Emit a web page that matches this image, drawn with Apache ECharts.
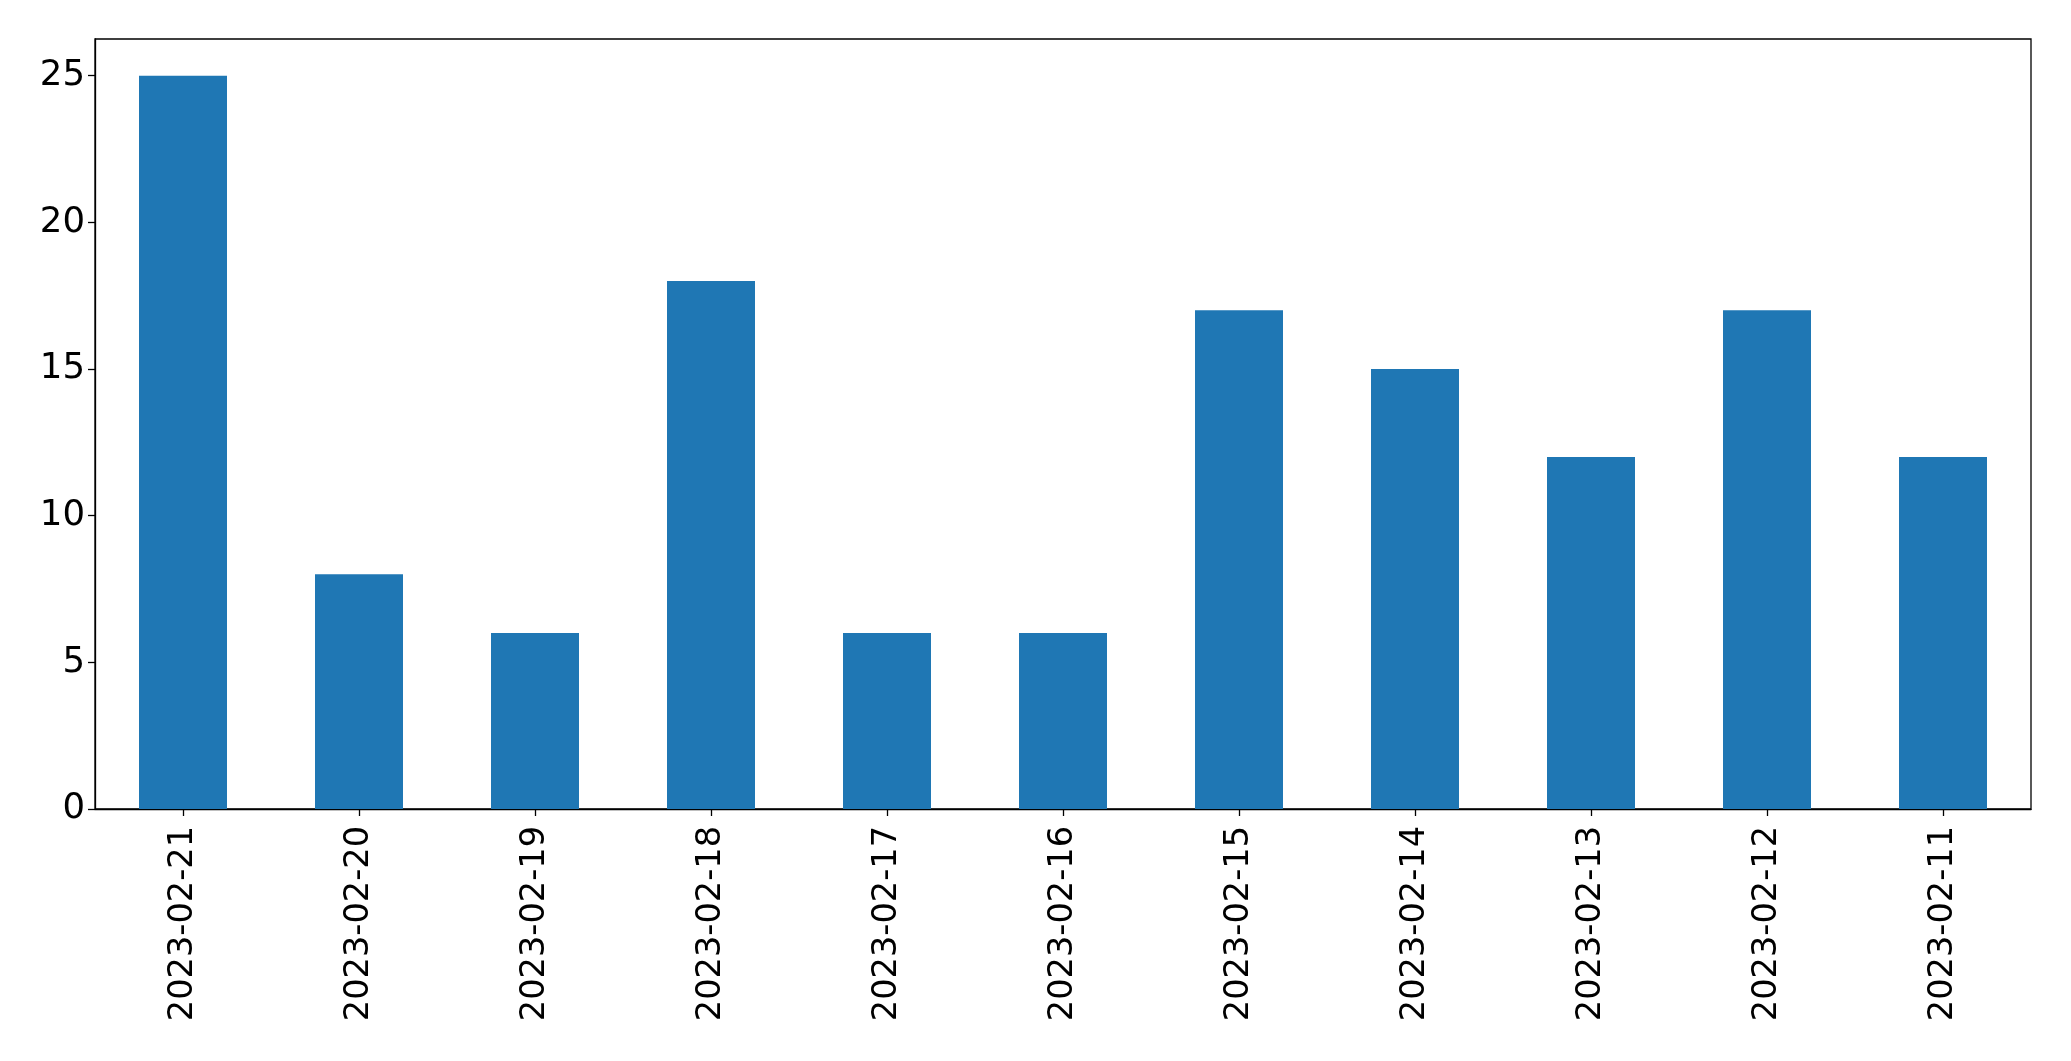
<!DOCTYPE html>
<html><head><meta charset="utf-8">
<script src="https://cdn.jsdelivr.net/npm/echarts@6/dist/echarts.min.js"></script>
<style>html,body{margin:0;padding:0;background:#fff}#c{width:2071px;height:1061px}</style>
</head><body><div id="c"></div>
<script>
const categories = ["2023-02-21","2023-02-20","2023-02-19","2023-02-18","2023-02-17","2023-02-16","2023-02-15","2023-02-14","2023-02-13","2023-02-12","2023-02-11"];
const values = [25, 8, 6, 18, 6, 6, 17, 15, 12, 17, 12];
const yTicks = [0, 5, 10, 15, 20, 25];

const chart = echarts.init(document.getElementById('c'));
const font = 'DejaVu Sans';
chart.setOption({
  animation: false,
  grid: {left: 95, right: 40, top: 39, bottom: 252, show: true, borderColor: '#000', borderWidth: 1.3, backgroundColor: 'transparent'},
  xAxis: {
    type: 'category', data: categories,
    axisLine: {show: true, lineStyle: {color: '#000', width: 1.3}},
    axisTick: {show: true, alignWithLabel: true, length: 7, lineStyle: {color: '#000', width: 1.3}},
    axisLabel: {rotate: 90, margin: 17, fontSize: 33.6, fontFamily: font, color: '#000', interval: 0}
  },
  yAxis: {
    type: 'value', min: 0, max: 26.25, interval: 5,
    splitLine: {show: false},
    axisLine: {show: true, lineStyle: {color: '#000', width: 1.3}},
    axisTick: {show: true, length: 7, lineStyle: {color: '#000', width: 1.3}},
    axisLabel: {margin: 10, fontSize: 35.5, fontFamily: font, color: '#000', showMaxLabel: false,
      formatter: v => yTicks.includes(v) ? String(v) : ''}
  },
  series: [{type: 'bar', data: values, barWidth: '50%', itemStyle: {color: '#1f77b4'}}]
});
</script></body></html>
